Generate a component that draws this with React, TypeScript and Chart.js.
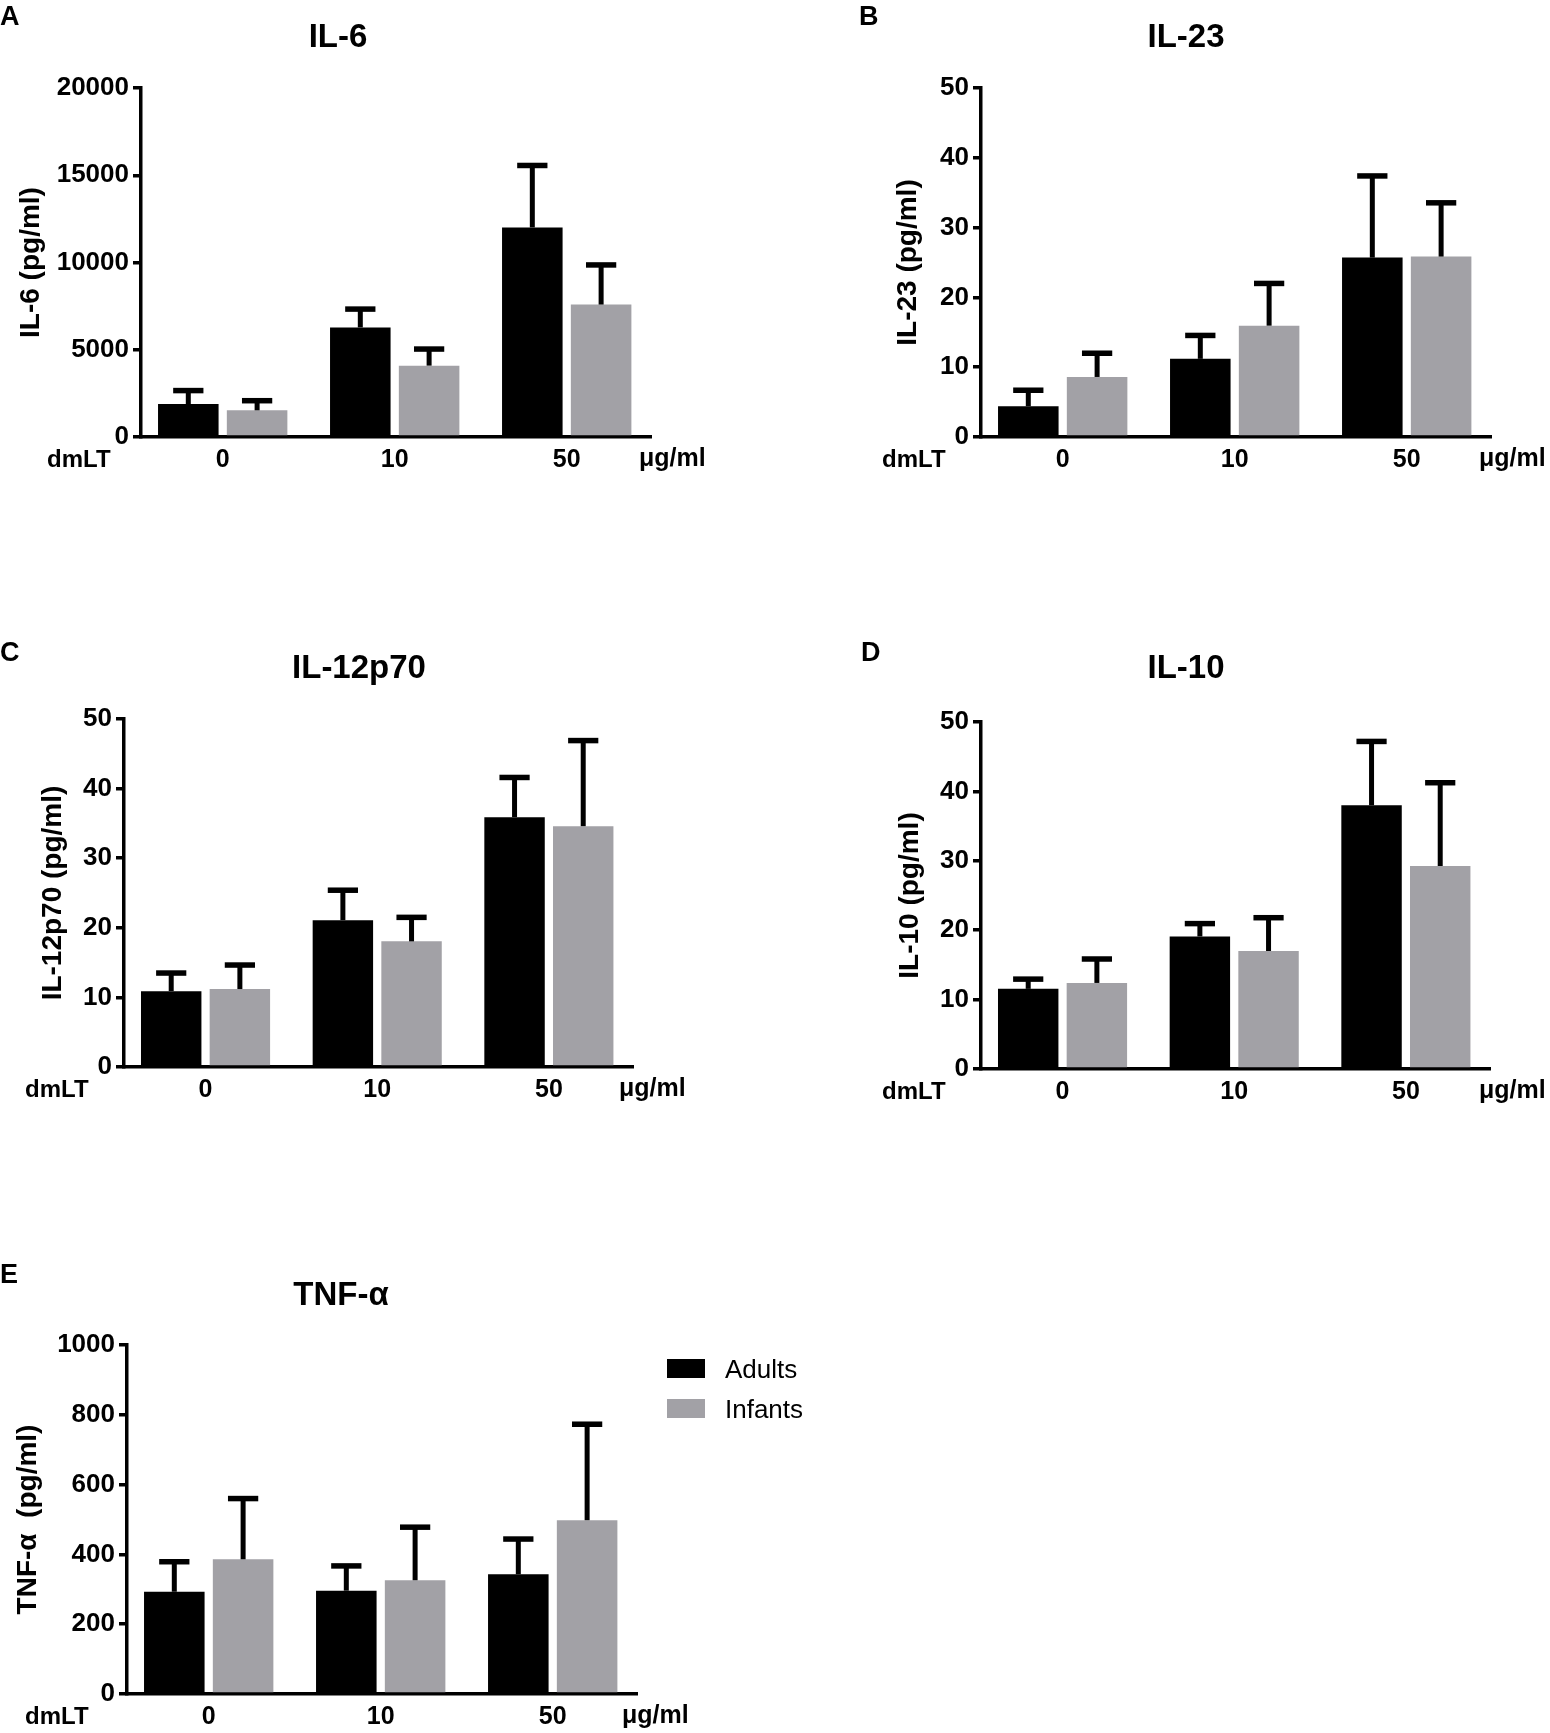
import React, { useEffect, useRef } from "react";
import { Chart, registerables } from "chart.js";

Chart.register(...registerables);

// ---------------- data ----------------
const CATEGORIES = ["0", "10", "50"];
const SERIES_LABELS = ["Adults", "Infants"];

const IL6_ADULTS = [1890, 6280, 12010];
const IL6_ADULTS_SEM = [770, 1050, 3550];
const IL6_INFANTS = [1530, 4090, 7590];
const IL6_INFANTS_SEM = [550, 950, 2270];
const IL6_TICKS = [0, 5000, 10000, 15000, 20000];

const IL23_ADULTS = [4.4, 11.2, 25.7];
const IL23_ADULTS_SEM = [2.3, 3.35, 11.7];
const IL23_INFANTS = [8.6, 15.95, 25.85];
const IL23_INFANTS_SEM = [3.4, 6.05, 7.7];

const IL12_ADULTS = [10.9, 21.1, 35.9];
const IL12_ADULTS_SEM = [2.6, 4.3, 5.7];
const IL12_INFANTS = [11.2, 18.05, 34.6];
const IL12_INFANTS_SEM = [3.45, 3.45, 12.3];

const IL10_ADULTS = [11.55, 19.1, 38.0];
const IL10_ADULTS_SEM = [1.4, 1.85, 9.2];
const IL10_INFANTS = [12.4, 17.0, 29.25];
const IL10_INFANTS_SEM = [3.45, 4.8, 12.0];

const TICKS_0_50 = [0, 10, 20, 30, 40, 50];

const TNF_ADULTS = [293, 296, 343];
const TNF_ADULTS_SEM = [86, 71, 101];
const TNF_INFANTS = [386, 326, 498];
const TNF_INFANTS_SEM = [174, 152, 275];
const TNF_TICKS = [0, 200, 400, 600, 800, 1000];

// ---------------- styles / layout ----------------
const W = 1550;
const H = 1733;
const FONT = "'Liberation Sans', Arial, Helvetica, sans-serif";
const BLACK = "#000000";
const GRAY = "#a2a1a6";
const X_MIN = -0.475; // axis extends a little before the first group
const X_MAX = 2.49;   // and a little after the last group

type Panel = {
  letter: string;
  title: string;
  yTitle: string;
  adults: number[];
  adultsSem: number[];
  infants: number[];
  infantsSem: number[];
  ticks: number[];
  L: {
    left: number; right: number; top: number; zero: number;
    yTitleX: number;
    titleX: number; titleBase: number;
    letterX: number; letterBase: number;
    dmltX: number; unitX: number; textBase: number;
  };
  legend?: { boxX: number; boxY: number; gap: number; textX: number };
};

const PANELS: Panel[] = [
  {
    letter: "A", title: "IL-6", yTitle: "IL-6 (pg/ml)",
    adults: IL6_ADULTS, adultsSem: IL6_ADULTS_SEM, infants: IL6_INFANTS, infantsSem: IL6_INFANTS_SEM,
    ticks: IL6_TICKS,
    L: { left: 141, right: 651, top: 88, zero: 437, yTitleX: 31, titleX: 338, titleBase: 47,
      letterX: 0, letterBase: 25, dmltX: 47, unitX: 639, textBase: 467 },
  },
  {
    letter: "B", title: "IL-23", yTitle: "IL-23 (pg/ml)",
    adults: IL23_ADULTS, adultsSem: IL23_ADULTS_SEM, infants: IL23_INFANTS, infantsSem: IL23_INFANTS_SEM,
    ticks: TICKS_0_50,
    L: { left: 981, right: 1491, top: 88, zero: 437, yTitleX: 908, titleX: 1186, titleBase: 47,
      letterX: 859, letterBase: 25, dmltX: 882, unitX: 1479, textBase: 467 },
  },
  {
    letter: "C", title: "IL-12p70", yTitle: "IL-12p70 (pg/ml)",
    adults: IL12_ADULTS, adultsSem: IL12_ADULTS_SEM, infants: IL12_INFANTS, infantsSem: IL12_INFANTS_SEM,
    ticks: TICKS_0_50,
    L: { left: 124, right: 633, top: 719, zero: 1067, yTitleX: 53, titleX: 359, titleBase: 678,
      letterX: 0, letterBase: 661, dmltX: 25, unitX: 619, textBase: 1097 },
  },
  {
    letter: "D", title: "IL-10", yTitle: "IL-10 (pg/ml)",
    adults: IL10_ADULTS, adultsSem: IL10_ADULTS_SEM, infants: IL10_INFANTS, infantsSem: IL10_INFANTS_SEM,
    ticks: TICKS_0_50,
    L: { left: 981, right: 1490, top: 722, zero: 1069, yTitleX: 910, titleX: 1186, titleBase: 678,
      letterX: 861, letterBase: 661, dmltX: 882, unitX: 1479, textBase: 1099 },
  },
  {
    letter: "E", title: "TNF-α", yTitle: "TNF-α  (pg/ml)",
    adults: TNF_ADULTS, adultsSem: TNF_ADULTS_SEM, infants: TNF_INFANTS, infantsSem: TNF_INFANTS_SEM,
    ticks: TNF_TICKS,
    L: { left: 127, right: 637, top: 1345, zero: 1694, yTitleX: 28, titleX: 341, titleBase: 1305,
      letterX: 0, letterBase: 1283, dmltX: 25, unitX: 622, textBase: 1724 },
    legend: { boxX: 667, boxY: 1359, gap: 40, textX: 725 },
  },
];

const Y_TITLE_SIZE = 28;
const X_SCALE_H = 39;

function makePlugin(p: Panel) {
  return {
    id: "panelExtras",
    afterDatasetsDraw(chart: any) {
      const ctx = chart.ctx as CanvasRenderingContext2D;
      const ys = chart.scales.y;
      ctx.save();
      ctx.strokeStyle = BLACK;
      ctx.lineCap = "butt";
      chart.data.datasets.forEach((ds: any, di: number) => {
        const meta = chart.getDatasetMeta(di);
        meta.data.forEach((bar: any, i: number) => {
          const v = ds.values[i] as number;
          const top = ys.getPixelForValue(v + ds.sem[i]);
          const half = bar.width * 0.25;
          ctx.lineWidth = 5;
          ctx.beginPath();
          ctx.moveTo(bar.x, bar.y);
          ctx.lineTo(bar.x, top);
          ctx.stroke();
          ctx.lineWidth = 5.5;
          ctx.beginPath();
          ctx.moveTo(bar.x - half, top);
          ctx.lineTo(bar.x + half, top);
          ctx.stroke();
        });
      });
      ctx.restore();
    },
    afterDraw(chart: any) {
      const ctx = chart.ctx as CanvasRenderingContext2D;
      const L = p.L;
      ctx.save();
      ctx.fillStyle = BLACK;
      ctx.textBaseline = "alphabetic";
      // panel letter
      ctx.textAlign = "left";
      ctx.font = `bold 27px ${FONT}`;
      ctx.fillText(p.letter, L.letterX, L.letterBase);
      // title
      ctx.textAlign = "center";
      ctx.font = `bold 33px ${FONT}`;
      ctx.fillText(p.title, L.titleX, L.titleBase);
      // dmLT and unit
      ctx.textAlign = "left";
      ctx.font = `bold 24px ${FONT}`;
      ctx.fillText("dmLT", L.dmltX, L.textBase);
      ctx.font = `bold 25px ${FONT}`;
      ctx.fillText("μg/ml", L.unitX, L.textBase - 1);
      // legend
      if (p.legend) {
        const lg = p.legend;
        ctx.font = `26px ${FONT}`;
        chart.data.datasets.forEach((ds: any, di: number) => {
          const by = lg.boxY + di * lg.gap;
          ctx.fillStyle = ds.backgroundColor;
          ctx.fillRect(lg.boxX, by, 38, 19);
          ctx.fillStyle = BLACK;
          ctx.fillText(ds.label, lg.textX, by + 19);
        });
      }
      ctx.restore();
    },
  };
}

function makeConfig(p: Panel): any {
  const L = p.L;
  const padLeft = L.yTitleX - (Y_TITLE_SIZE * 1.2) / 2;
  const ticks = p.ticks;
  const toPoints = (vals: number[]) => vals.map((y, i) => ({ x: i, y }));
  return {
    type: "bar",
    data: {
      datasets: [
        { label: SERIES_LABELS[0], data: toPoints(p.adults), values: p.adults, sem: p.adultsSem,
          backgroundColor: BLACK, borderWidth: 0, categoryPercentage: 0.80, barPercentage: 0.88 },
        { label: SERIES_LABELS[1], data: toPoints(p.infants), values: p.infants, sem: p.infantsSem,
          backgroundColor: GRAY, borderWidth: 0, categoryPercentage: 0.80, barPercentage: 0.88 },
      ],
    },
    options: {
      responsive: false,
      animation: false,
      devicePixelRatio: 1,
      events: [],
      layout: {
        padding: {
          left: padLeft,
          top: L.top,
          right: W - L.right,
          bottom: Math.max(0, H - L.zero - X_SCALE_H),
        },
      },
      plugins: {
        legend: { display: false },
        title: { display: false },
        tooltip: { enabled: false },
      },
      scales: {
        x: {
          type: "linear",
          min: X_MIN,
          max: X_MAX,
          offset: false,
          z: 1,
          afterBuildTicks: (s: any) => { s.ticks = CATEGORIES.map((_, i) => ({ value: i })); },
          grid: { display: false, drawTicks: false },
          border: { display: true, color: BLACK, width: 3.5 },
          ticks: {
            color: BLACK,
            padding: 8,
            autoSkip: false,
            maxRotation: 0,
            font: { family: FONT, size: 25, weight: "bold" },
            callback: (v: any) => CATEGORIES[Math.round(v)] ?? "",
          },
          afterFit: (s: any) => { s.height = X_SCALE_H; },
        },
        y: {
          min: ticks[0],
          max: ticks[ticks.length - 1],
          z: 1,
          afterBuildTicks: (s: any) => { s.ticks = ticks.map((v) => ({ value: v })); },
          ticks: {
            color: BLACK,
            padding: 4,
            font: { family: FONT, size: 26, weight: "bold" },
            callback: (v: any) => String(v),
          },
          grid: {
            drawOnChartArea: false,
            drawTicks: true,
            tickLength: 8,
            lineWidth: 3.5,
            color: BLACK,
          },
          border: { display: true, color: BLACK, width: 3.5 },
          title: {
            display: true,
            text: p.yTitle,
            color: BLACK,
            font: { family: FONT, size: Y_TITLE_SIZE, weight: "bold" },
            padding: { top: 0, bottom: 0 },
          },
          afterFit: (s: any) => { s.width = L.left - padLeft; },
        },
      },
    },
    plugins: [makePlugin(p)],
  };
}

export default function App() {
  const refs = useRef<(HTMLCanvasElement | null)[]>([]);

  useEffect(() => {
    const charts: Chart[] = [];
    PANELS.forEach((p, i) => {
      const c = refs.current[i];
      if (c) charts.push(new Chart(c, makeConfig(p)));
    });
    return () => charts.forEach((c) => c.destroy());
  }, []);

  return (
    <div style={{ position: "absolute", left: 0, top: 0, width: W, height: H, background: "#fff", overflow: "hidden" }}>
      {PANELS.map((p, i) => (
        <canvas
          key={p.letter}
          ref={(el) => { refs.current[i] = el; }}
          width={W}
          height={H}
          style={{ position: "absolute", left: 0, top: 0, width: W, height: H }}
        />
      ))}
    </div>
  );
}
